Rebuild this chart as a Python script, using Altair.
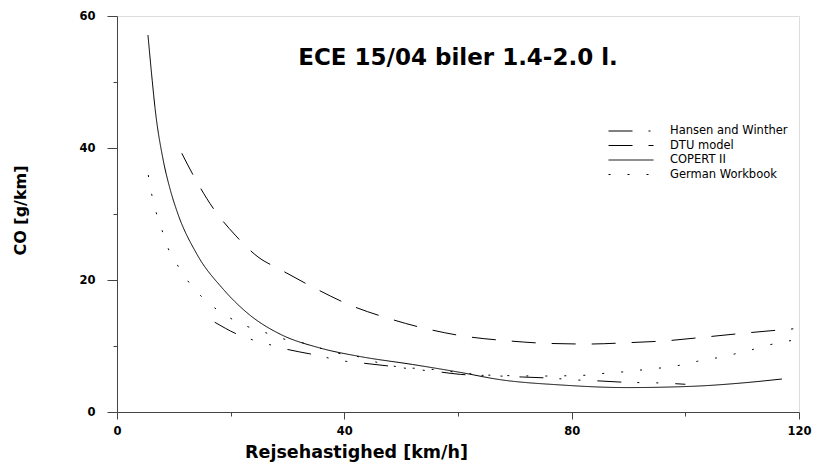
import altair as alt
import pandas as pd

# ---- data ----
series_names = ["Hansen and Winther", "DTU model", "COPERT II", "German Workbook"]

speed_hw = [17.2, 21.1, 26.9, 29.9, 34.0, 40.1, 43.3, 47.5, 52.0, 56.5, 60.4, 66.0,
            71.4, 75.8, 82.0, 85.0, 89.4, 95.5, 100.0]
co_hw = [13.6, 11.8, 10.2, 9.5, 8.8, 7.7, 7.4, 7.0, 6.5, 6.1, 5.7, 5.5,
         5.3, 5.15, 4.8, 4.7, 4.5, 4.4, 4.2]

speed_dtu = [11.4, 13.4, 16.9, 20.8, 24.8, 28.7, 34.5, 41.0, 47.7, 54.5, 61.0, 68.6,
             75.7, 82.9, 89.9, 96.8, 104.0, 111.0, 119.0]
co_dtu = [39.2, 35.9, 30.9, 26.8, 23.5, 21.6, 18.9, 16.2, 14.2, 12.6, 11.5, 10.8,
          10.4, 10.3, 10.5, 10.8, 11.4, 12.0, 12.6]

speed_copert = [5.45, 6.2, 6.7, 8.1, 9.3, 10.6, 14.0, 18.7, 23.5, 28.7, 35.7, 42.8,
                52.0, 60.4, 67.4, 78.0, 89.7, 101.4, 110.0, 117.0]
co_copert = [57.1, 50.2, 46.0, 38.3, 33.9, 30.3, 24.0, 18.6, 14.6, 11.8, 9.7, 8.4,
             7.2, 6.0, 4.9, 4.1, 3.7, 3.9, 4.4, 5.0]

speed_gw = [5.5, 6.1, 6.9, 7.9, 9.0, 10.4, 12.1, 14.3, 16.7, 19.4, 22.0, 26.2, 29.2,
            32.6, 35.7, 38.9, 41.9, 45.0, 49.8, 55.0, 60.0, 65.0, 69.7, 74.7, 79.7,
            83.0, 86.2, 89.4, 92.6, 95.9, 99.1, 102.2, 105.5, 108.7, 112.0, 114.9,
            116.7, 119.0]
co_gw = [35.9, 33.0, 30.2, 27.6, 24.8, 22.6, 20.3, 18.0, 16.1, 14.5, 13.3, 12.0, 11.1,
         10.5, 9.7, 8.9, 8.5, 7.7, 6.8, 6.5, 6.0, 5.6, 5.5, 5.45, 5.5,
         5.6, 5.9, 6.1, 6.4, 6.7, 7.1, 7.7, 8.2, 8.8, 9.5, 10.2,
         10.5, 10.9]

x_ticks = [0, 20, 40, 60, 80, 100, 120]
y_ticks = [0, 10, 20, 30, 40, 50, 60]

dash_styles = [[24, 16, 2, 17, 2, 17], [24, 16], [1, 0], [2, 17]]

rows = []
for name, xs, ys in zip(series_names,
                        [speed_hw, speed_dtu, speed_copert, speed_gw],
                        [co_hw, co_dtu, co_copert, co_gw]):
    for xv, yv in zip(xs, ys):
        rows.append({"model": name, "speed": xv, "co": yv})
df = pd.DataFrame(rows)

FONT = "DejaVu Sans"
AXIS_COLOR = "#444444"

x_axis = alt.Axis(
    values=x_ticks,
    labelExpr="datum.value % 40 === 0 ? datum.label : ''",
    tickSize={"condition": {"test": "datum.value % 40 === 0", "value": 7}, "value": 4},
    grid=False,
    domainColor=AXIS_COLOR, tickColor=AXIS_COLOR,
    labelFont=FONT, labelFontSize=11.5, labelFontWeight="bold", labelColor="black",
    labelPadding=6, labelFlush=False,
    title="Rejsehastighed [km/h]",
    titleFont=FONT, titleFontSize=17.5, titleFontWeight="bold", titleColor="black",
    titleX=239, titleY=45, titleBaseline="alphabetic", titleAlign="center",
)

y_axis = alt.Axis(
    values=y_ticks,
    labelExpr="datum.value % 20 === 0 ? datum.label : ''",
    tickSize={"condition": {"test": "datum.value % 20 === 0", "value": 10}, "value": 4},
    grid=False,
    domainColor=AXIS_COLOR, tickColor=AXIS_COLOR,
    labelFont=FONT, labelFontSize=11.5, labelFontWeight="bold", labelColor="black",
    labelPadding=12, labelFlush=False,
    title="CO [g/km]",
    titleFont=FONT, titleFontSize=16, titleFontWeight="bold", titleColor="black",
    titleX=-92, titleY=194, titleBaseline="alphabetic", titleAlign="center", titleAngle=270,
)

legend = alt.Legend(
    title=None, orient="none", legendX=491, legendY=109,
    symbolType="stroke", symbolSize=2025, symbolStrokeWidth=1,
    symbolStrokeColor="black",
    labelFont=FONT, labelFontSize=11.5, labelColor="black", labelOffset=16,
    labelLimit=300, clipHeight=12, rowPadding=2.5, padding=0,
)

chart = alt.Chart(df).mark_line(
    color="black", strokeWidth=1, interpolate="monotone"
).encode(
    x=alt.X("speed:Q", scale=alt.Scale(domain=[0, 120], nice=False, zero=False), axis=x_axis),
    y=alt.Y("co:Q", scale=alt.Scale(domain=[0, 60], nice=False), axis=y_axis),
    strokeDash=alt.StrokeDash("model:N",
                              scale=alt.Scale(domain=series_names, range=dash_styles),
                              legend=legend),
    detail="model:N",
).properties(
    width=682, height=396,
    title=alt.Title("ECE 15/04 biler 1.4-2.0 l.", font=FONT, fontSize=23,
                    fontWeight="bold", color="black", anchor="middle",
                    baseline="alphabetic", offset=0, dy=78),
    autosize=alt.AutoSizeParams(type="none"),
    padding={"left": 117, "top": 16, "right": 27, "bottom": 56},
).configure_view(stroke=None).configure(background="white")

chart.save("out.html", embed_options={"renderer": "svg", "actions": False})
